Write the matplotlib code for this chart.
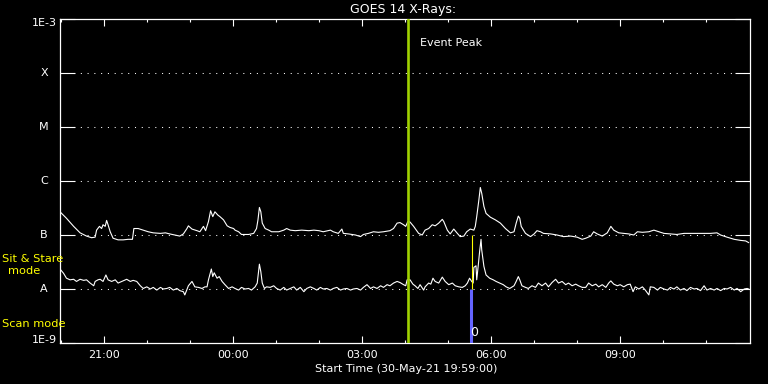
import matplotlib
matplotlib.use("Agg")
import matplotlib.pyplot as plt
import numpy as np
from datetime import datetime
from matplotlib.ticker import NullLocator

# ---------------- data ----------------
start_time = datetime(2021, 5, 30, 19, 59)
end_minutes = 962
title = "GOES 14 X-Rays:"
start_label = "Start Time (30-May-21 19:59:00)"

tick_labels = ["21:00", "00:00", "03:00", "06:00", "09:00"]
class_levels = [1e-9, 1e-8, 1e-7, 1e-6, 1e-5, 1e-4, 1e-3]
class_labels = ["1E-9", "A", "B", "C", "M", "X", "1E-3"]

event_peak = datetime(2021, 5, 31, 4, 4)
scan_time = datetime(2021, 5, 31, 5, 32)
stare_time = datetime(2021, 5, 31, 5, 33)
marker_time = datetime(2021, 5, 31, 5, 37)
marker_log = -8.81

# long channel (minutes from start, log10 flux W/m^2)
long_t = [0, 9, 19, 28, 37, 44, 49, 51, 55, 58, 60, 63, 65, 67, 70, 74, 81, 88, 95, 101,
          103, 109, 116, 123, 130, 140, 147, 153, 160, 167, 172, 177, 179, 184, 191, 195, 200, 203, 207, 210,
          213, 216, 220, 223, 228, 233, 237, 242, 244, 249, 253, 263, 270, 274, 276, 278, 280, 282, 286, 291,
          295, 305, 312, 316, 321, 328, 337, 347, 354, 361, 367, 377, 381, 388, 393, 395, 402, 412, 419, 423,
          430, 437, 444, 451, 460, 465, 470, 474, 479, 482, 485, 488, 493, 500, 505, 509, 514, 519, 523, 528,
          533, 535, 540, 544, 549, 554, 558, 563, 567, 572, 577, 579, 581, 584, 586, 588, 591, 594, 600, 607,
          614, 621, 628, 633, 636, 639, 641, 643, 649, 656, 661, 665, 670, 674, 684, 693, 702, 712, 721, 728,
          733, 740, 744, 749, 756, 763, 768, 772, 779, 786, 793, 800, 805, 812, 821, 828, 835, 842, 851, 860,
          870, 879, 888, 898, 907, 916, 921, 930, 940, 949, 956, 960]
long_log = [-6.57, -6.69, -6.84, -6.96, -7.02, -7.05, -7.04, -6.91, -6.84, -6.88, -6.81, -6.84, -6.73, -6.81, -6.94, -7.06, -7.09, -7.09, -7.08, -7.08,
            -6.88, -6.88, -6.91, -6.94, -6.96, -6.97, -6.96, -6.98, -7.00, -7.02, -6.98, -6.88, -6.83, -6.89, -6.92, -6.94, -6.84, -6.92, -6.75, -6.55,
            -6.66, -6.57, -6.63, -6.66, -6.72, -6.83, -6.86, -6.88, -6.91, -6.94, -6.99, -6.99, -6.97, -6.88, -6.72, -6.49, -6.57, -6.78, -6.88, -6.91,
            -6.94, -6.94, -6.91, -6.88, -6.91, -6.92, -6.91, -6.92, -6.91, -6.92, -6.94, -6.91, -6.94, -6.97, -6.89, -6.97, -6.98, -7.00, -7.03, -6.99,
            -6.97, -6.94, -6.95, -6.94, -6.92, -6.88, -6.78, -6.77, -6.81, -6.84, -6.75, -6.76, -6.84, -6.97, -7.00, -6.91, -6.88, -6.81, -6.83, -6.78,
            -6.71, -6.75, -6.91, -6.98, -6.89, -6.97, -7.03, -7.02, -6.94, -6.89, -6.91, -6.84, -6.66, -6.35, -6.12, -6.23, -6.47, -6.60, -6.67, -6.72,
            -6.78, -6.88, -6.96, -6.94, -6.78, -6.65, -6.69, -6.84, -6.97, -7.03, -6.98, -6.92, -6.94, -6.97, -6.98, -7.00, -7.03, -7.02, -7.04, -7.08,
            -7.06, -7.02, -6.94, -6.98, -7.02, -6.96, -6.84, -6.91, -6.96, -6.97, -6.98, -7.00, -6.94, -6.95, -6.94, -6.91, -6.94, -6.97, -6.98, -6.99,
            -6.97, -6.97, -6.97, -6.97, -6.97, -6.96, -7.00, -7.04, -7.08, -7.10, -7.11, -7.14]

# short channel (minutes from start, log10 flux W/m^2)
short_t = [0, 5, 9, 14, 19, 23, 28, 33, 37, 42, 47, 49, 53, 56, 60, 64, 67, 72, 77, 81,
           86, 91, 93, 98, 102, 107, 112, 116, 121, 126, 130, 135, 140, 144, 149, 153, 158, 163, 167, 172,
           174, 179, 184, 188, 193, 198, 202, 205, 207, 211, 213, 215, 219, 222, 226, 230, 235, 240, 244, 249,
           253, 258, 263, 267, 272, 275, 277, 278, 280, 282, 285, 288, 293, 298, 302, 307, 312, 316, 321, 326,
           330, 335, 340, 344, 349, 354, 358, 363, 367, 372, 377, 381, 386, 391, 395, 400, 405, 409, 414, 419,
           423, 428, 433, 437, 442, 447, 451, 456, 460, 465, 470, 474, 479, 482, 484, 488, 492, 495, 499, 502,
           507, 509, 514, 517, 520, 523, 528, 533, 537, 542, 547, 551, 556, 561, 565, 568, 571, 574, 576, 577,
           580, 581, 583, 585, 587, 588, 591, 594, 599, 604, 608, 613, 618, 622, 627, 633, 636, 639, 641, 644,
           649, 653, 658, 663, 667, 672, 677, 681, 686, 691, 695, 700, 705, 709, 714, 719, 723, 728, 733, 737,
           742, 747, 751, 756, 761, 765, 768, 772, 777, 781, 786, 791, 795, 799, 802, 807, 812, 816, 821, 823,
           828, 833, 837, 842, 847, 851, 856, 860, 865, 870, 874, 879, 884, 888, 893, 898, 902, 907, 912, 916,
           921, 926, 930, 935, 940, 944, 949, 954, 958, 960]
short_log = [-7.63, -7.71, -7.80, -7.83, -7.82, -7.86, -7.82, -7.84, -7.83, -7.89, -7.94, -7.86, -7.83, -7.82, -7.86, -7.74, -7.83, -7.86, -7.83, -7.89,
             -7.86, -7.83, -7.82, -7.86, -7.84, -7.86, -7.94, -7.99, -7.96, -8.00, -7.97, -8.02, -7.97, -8.00, -7.99, -7.97, -8.02, -7.99, -8.03, -8.05,
             -8.11, -7.94, -7.86, -7.96, -7.97, -7.99, -7.96, -7.96, -7.83, -7.63, -7.77, -7.70, -7.80, -7.77, -7.86, -7.92, -7.99, -7.96, -7.99, -8.02,
             -7.97, -8.00, -7.99, -8.02, -7.96, -7.89, -7.65, -7.54, -7.68, -7.89, -7.99, -7.96, -7.97, -7.94, -7.99, -8.02, -7.97, -8.02, -7.99, -7.96,
             -8.02, -7.97, -8.05, -7.99, -7.96, -7.99, -8.02, -7.97, -8.00, -7.99, -8.02, -7.99, -7.97, -8.02, -8.00, -7.99, -8.02, -8.00, -7.99, -8.02,
             -7.97, -7.92, -7.99, -7.96, -7.99, -7.94, -7.97, -7.92, -7.94, -7.89, -7.86, -7.88, -7.92, -7.94, -7.83, -7.83, -7.91, -7.94, -7.99, -7.92,
             -8.02, -7.96, -7.89, -7.91, -7.80, -7.86, -7.89, -7.78, -7.86, -7.92, -7.89, -7.94, -7.96, -7.97, -7.94, -7.89, -7.80, -7.86, -7.89, -7.60,
             -7.57, -7.83, -7.58, -7.31, -7.08, -7.28, -7.58, -7.74, -7.80, -7.83, -7.86, -7.89, -7.92, -7.96, -7.99, -7.94, -7.86, -7.77, -7.83, -7.94,
             -7.97, -7.99, -7.94, -7.97, -7.89, -7.94, -7.89, -7.96, -7.88, -7.82, -7.89, -7.86, -7.92, -7.89, -7.94, -7.91, -7.94, -7.97, -7.97, -7.89,
             -7.94, -7.91, -7.96, -7.92, -7.97, -7.89, -7.85, -7.91, -7.94, -7.92, -7.96, -7.92, -7.91, -8.05, -7.96, -8.00, -7.96, -8.02, -8.11, -7.96,
             -7.97, -8.02, -7.97, -8.00, -8.02, -7.97, -8.00, -7.96, -8.02, -7.99, -8.03, -7.97, -8.00, -7.99, -8.03, -7.94, -8.02, -7.99, -8.02, -7.99,
             -8.03, -7.99, -8.00, -7.97, -8.02, -7.99, -8.05, -8.00, -7.99, -8.00]

# ---------------- drawing ----------------
W, H = 768, 384
fig = plt.figure(figsize=(W / 100, H / 100), dpi=100, facecolor="black")
ax = fig.add_axes([60 / W, 41 / H, 690 / W, 324 / H], facecolor="black")
ax.set_yscale("log")
ax.set_ylim(class_levels[0], class_levels[-1])
ax.set_xlim(0, end_minutes)


def minutes(dt):
    return (dt - start_time).total_seconds() / 60.0


# dotted class lines
for lv in class_levels[1:-1]:
    ax.axhline(lv, color="white", lw=0.75, ls=(0, (1, 5.5)), zorder=1)

ax.plot(long_t, 10 ** np.array(long_log), color="white", lw=0.8, zorder=3)
ax.plot(short_t, 10 ** np.array(short_log), color="white", lw=0.8, zorder=3)

# event peak line
ev = minutes(event_peak)
ax.axvline(ev, color="#a0d200", lw=1.9, zorder=4)
ax.annotate("Event Peak", xy=(ev, 1), xycoords=("data", "axes fraction"),
            xytext=(8.5, -17.5), textcoords="offset points", color="white",
            fontsize=8, ha="left", va="center")

# scan / stare markers
sc = minutes(scan_time)
ax.plot([sc, sc], [class_levels[0], class_levels[1]], color="#6464ff", lw=2.2,
        solid_capstyle="butt", zorder=5)
st = minutes(stare_time)
ax.plot([st, st], [class_levels[1], class_levels[2]], color="#ffff00", lw=0.8,
        solid_capstyle="butt", zorder=5)
ax.text(minutes(marker_time), 10 ** marker_log, "0", color="white", fontsize=9,
        ha="center", va="center", zorder=6)

# x ticks
def tick_pos(label):
    h, m = map(int, label.split(":"))
    t = start_time.replace(hour=h, minute=m)
    if t < start_time:
        t = t.replace(day=start_time.day + 1)
    return minutes(t)

major_pos = [tick_pos(l) for l in tick_labels]
minor_pos = [p + k * 60 for p in major_pos for k in (-2, -1, 1, 2)]
minor_pos = sorted(set(p for p in minor_pos if 0 <= p <= end_minutes and p not in major_pos))
ax.set_xticks(major_pos)
ax.set_xticklabels(tick_labels)
ax.set_xticks(minor_pos, minor=True)
ax.tick_params(axis="x", which="major", direction="in", length=4.8, width=0.8,
               top=True, bottom=True, colors="white", labelsize=8, pad=5)
ax.tick_params(axis="x", which="minor", direction="in", length=2.4, width=0.8,
               top=True, bottom=True, colors="white")

# y ticks
ax.set_yticks(class_levels)
ax.set_yticklabels([])
ax.yaxis.set_minor_locator(NullLocator())
ax.tick_params(axis="y", which="major", direction="in", length=10.8, width=0.8,
               left=True, right=True, colors="white")

for lv, lab in zip(class_levels, class_labels):
    if lab.startswith("1E"):
        dy = -2.9 if lv == class_levels[-1] else 2.2
        ax.annotate(lab, xy=(0, lv), xycoords=("axes fraction", "data"),
                    xytext=(-2.2, dy), textcoords="offset points", color="white",
                    fontsize=8, ha="right", va="center")
    else:
        ax.annotate(lab, xy=(0, lv), xycoords=("axes fraction", "data"),
                    xytext=(-11.5, 0), textcoords="offset points", color="white",
                    fontsize=8, ha="center", va="center")

for s in ax.spines.values():
    s.set_color("white")
    s.set_linewidth(0.9)

# texts
fig.text(403 / W, 1 - 10 / H, title, color="white", fontsize=9, ha="center", va="center")
fig.text(406 / W, 1 - 369 / H, start_label, color="white", fontsize=8, ha="center", va="center")
fig.text(1.5 / W, 1 - 259 / H, "Sit & Stare", color="#ffff00", fontsize=8.2, ha="left", va="center", zorder=10)
fig.text(24.5 / W, 1 - 271 / H, "mode", color="#ffff00", fontsize=8.2, ha="center", va="center")
fig.text(1.5 / W, 1 - 324 / H, "Scan mode", color="#ffff00", fontsize=8.2, ha="left", va="center")

fig.savefig("out.png", dpi=100, facecolor="black")
